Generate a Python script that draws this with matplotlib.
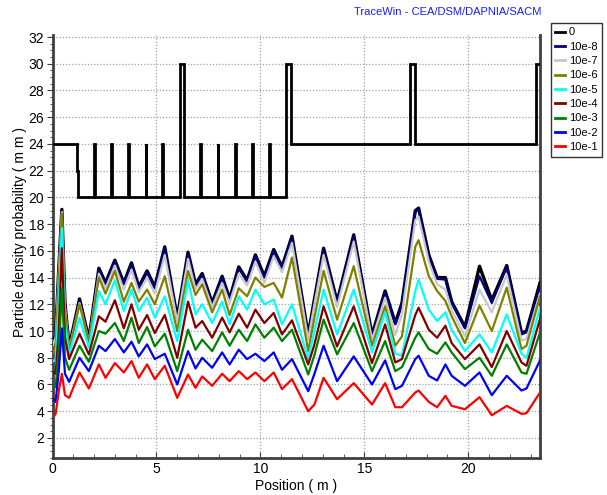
import matplotlib
matplotlib.use("Agg")
import matplotlib.pyplot as plt
from matplotlib.ticker import MultipleLocator

plt.rcParams['font.family'] = ['Liberation Sans', 'DejaVu Sans']

# ---------------- data ----------------
pos = [0.0, 0.15, 0.3, 0.45, 0.6, 0.8, 1.3, 1.75, 2.23, 2.55, 3.0, 3.43, 3.8, 4.15,
       4.55, 4.92, 5.4, 6.0, 6.52, 6.88, 7.2, 7.68, 8.16, 8.52, 8.96, 9.36, 9.76,
       10.19, 10.64, 11.04, 11.52, 12.3, 12.6, 13.04, 13.69, 14.49, 15.37, 16.0,
       16.49, 16.81, 17.45, 17.61, 18.1, 18.5, 18.9, 19.2, 19.84, 20.54, 21.13,
       21.85, 22.56, 22.8, 23.45]

p_0 = [9.1, 9.7, 14.6, 19.1, 12.1, 8.8, 12.4, 9.4, 14.7, 13.6, 15.3, 13.6, 15.1, 13.3,
       14.5, 13.3, 16.3, 11.0, 15.9, 13.5, 14.3, 12.1, 14.1, 12.4, 14.8, 13.8, 15.7,
       14.1, 16.1, 14.8, 17.1, 9.7, 12.4, 16.2, 12.2, 17.2, 9.7, 13.0, 10.6, 12.1,
       19.0, 19.2, 15.7, 14.0, 14.0, 12.2, 10.3, 14.85, 12.3, 14.9, 9.85, 10.0, 13.6]
p_8 = [9.0, 9.6, 14.5, 19.0, 12.0, 8.7, 12.3, 9.4, 14.6, 13.5, 15.2, 13.5, 15.0, 13.2,
       14.4, 13.2, 16.2, 10.9, 15.8, 13.4, 14.2, 12.0, 14.0, 12.3, 14.7, 13.7, 15.6,
       14.0, 16.0, 14.7, 17.0, 9.6, 12.3, 16.1, 12.1, 17.1, 9.6, 12.9, 10.5, 12.0,
       18.9, 19.1, 15.6, 13.9, 13.85, 12.1, 10.2, 14.1, 12.1, 14.8, 9.75, 9.9, 13.4]
p_7 = [8.9, 9.5, 14.3, 18.9, 11.8, 8.6, 12.1, 9.2, 14.3, 13.2, 14.9, 13.1, 14.6, 12.9,
       14.0, 12.8, 15.7, 10.7, 15.4, 13.1, 13.9, 11.8, 13.6, 12.1, 14.3, 13.4, 15.2,
       13.6, 15.6, 14.4, 16.6, 9.35, 12.0, 15.7, 11.8, 16.7, 9.35, 12.5, 9.7, 11.3,
       18.3, 18.55, 15.2, 13.5, 13.1, 11.6, 9.6, 13.1, 11.4, 14.2, 9.3, 9.4, 12.8]
p_6 = [8.3, 8.8, 13.8, 18.8, 11.5, 8.5, 12.0, 9.2, 14.0, 12.8, 14.5, 12.2, 13.6, 12.2,
       13.1, 12.0, 14.1, 10.0, 14.5, 12.7, 13.5, 11.4, 13.1, 11.2, 13.2, 12.6, 14.0,
       13.3, 13.6, 12.5, 15.5, 8.5, 11.0, 14.5, 10.85, 14.85, 8.9, 11.85, 8.9, 9.6,
       16.3, 16.8, 14.1, 13.0, 12.25, 11.1, 9.1, 11.9, 10.0, 13.25, 8.65, 8.9, 12.6]
p_5 = [7.7, 7.9, 12.0, 17.7, 10.5, 8.25, 11.0, 8.75, 13.0, 12.0, 13.8, 11.5, 13.1, 11.5,
       12.5, 11.0, 12.6, 9.25, 13.8, 11.25, 12.0, 10.6, 12.2, 10.5, 12.6, 11.6, 13.1,
       12.0, 12.35, 10.5, 12.0, 7.9, 10.0, 13.1, 9.75, 13.1, 8.4, 11.4, 8.3, 8.15,
       13.0, 13.85, 11.6, 10.75, 11.4, 10.1, 8.5, 9.75, 8.4, 11.25, 8.3, 8.0, 11.75]
p_4 = [7.0, 6.8, 10.0, 16.2, 9.5, 7.9, 9.8, 8.25, 11.1, 10.7, 12.3, 10.2, 12.0, 10.1,
       11.2, 9.85, 11.2, 8.0, 12.2, 10.25, 10.75, 9.5, 11.0, 9.9, 11.3, 10.25, 11.6,
       10.6, 11.35, 9.75, 10.8, 7.5, 9.0, 11.85, 8.85, 11.85, 7.6, 10.5, 7.65, 7.9,
       11.2, 11.75, 10.1, 9.5, 10.4, 9.1, 7.9, 9.0, 7.3, 10.0, 7.65, 7.4, 10.9]
p_3 = [6.2, 5.8, 8.5, 13.2, 8.0, 7.1, 8.9, 7.7, 10.0, 9.8, 10.6, 9.25, 11.0, 9.1,
       10.3, 8.85, 9.8, 7.0, 10.1, 8.6, 9.35, 8.5, 9.9, 8.9, 10.1, 9.25, 10.5,
       9.5, 10.25, 9.25, 10.1, 6.75, 8.2, 10.85, 8.25, 10.6, 7.0, 9.25, 7.0, 7.3,
       9.5, 9.9, 8.65, 8.3, 9.15, 8.4, 7.15, 8.0, 6.65, 9.0, 6.9, 6.8, 9.9]
p_2 = [5.0, 4.7, 7.0, 10.2, 6.8, 6.2, 8.0, 7.0, 8.9, 8.5, 9.4, 8.4, 9.2, 8.1,
       9.0, 7.9, 8.3, 6.0, 8.5, 7.2, 8.0, 7.25, 8.4, 7.5, 8.6, 7.9, 8.3,
       7.75, 8.4, 7.1, 7.9, 5.5, 6.8, 8.9, 6.25, 8.1, 6.0, 7.8, 5.65, 5.9,
       7.9, 8.15, 6.65, 6.3, 7.5, 6.65, 5.9, 6.9, 5.2, 6.65, 5.55, 5.7, 7.8]
p_1 = [3.5, 3.8, 5.5, 6.8, 5.2, 5.0, 6.9, 5.7, 7.5, 6.5, 7.6, 6.9, 7.75, 6.5,
       7.5, 6.4, 7.4, 5.0, 6.75, 5.75, 6.6, 5.9, 6.8, 6.25, 7.0, 6.4, 6.9,
       6.25, 6.9, 5.65, 6.4, 4.0, 4.5, 6.5, 4.9, 6.1, 4.5, 6.1, 4.3, 4.3,
       5.4, 5.55, 4.7, 4.3, 5.15, 4.4, 4.15, 5.05, 3.7, 4.4, 3.8, 3.85, 5.4]

series_labels = ['0', '10e-8', '10e-7', '10e-6', '10e-5', '10e-4', '10e-3', '10e-2', '10e-1']
series_colors = ['#000000', '#000080', '#c8c8c8', '#808000', '#00ffff', '#800000',
                 '#008000', '#0000ff', '#ff0000']

# lattice outline (top part): positions and levels
lat_x = [0.0, 1.19, 1.19, 1.22, 1.22,
         2.02, 2.02, 2.05, 2.05, 2.83, 2.83, 2.86, 2.86, 3.64, 3.64, 3.67, 3.67,
         4.48, 4.48, 4.51, 4.51, 5.28, 5.28, 5.31, 5.31,
         6.12, 6.12, 6.31, 6.31,
         7.11, 7.11, 7.14, 7.14, 7.95, 7.95, 7.98, 7.98, 8.79, 8.79, 8.82, 8.82,
         9.61, 9.61, 9.64, 9.64, 10.42, 10.42, 10.45, 10.45,
         11.25, 11.25, 11.49, 11.49, 17.21, 17.21, 17.44, 17.44, 23.27, 23.27, 23.45]
lat_y = [24, 24, 22, 22, 20,
         20, 24, 24, 20, 20, 24, 24, 20, 20, 24, 24, 20,
         20, 24, 24, 20, 20, 24, 24, 20,
         20, 30, 30, 20,
         20, 24, 24, 20, 20, 24, 24, 20, 20, 24, 24, 20,
         20, 24, 24, 20, 20, 24, 24, 20,
         20, 30, 30, 24, 24, 30, 30, 24, 24, 30, 30]

xticks = [0, 5, 10, 15, 20]
yticks = list(range(2, 33, 2))

# ---------------- plot ----------------
W, H = 607, 495
fig = plt.figure(figsize=(W / 100, H / 100), dpi=100)
L, R, B, T = 52.5, 540, 458, 35
ax = fig.add_axes([L / W, 1 - B / H, (R - L) / W, (B - T) / H])

ax.plot(lat_x, lat_y, color='#000000', lw=2.0, solid_joinstyle='miter', zorder=3)

all_series = [p_0, p_8, p_7, p_6, p_5, p_4, p_3, p_2, p_1]
handles = []
for vals, lab, col in zip(all_series, series_labels, series_colors):
    lw = 2.4 if lab == '0' else 1.6
    h, = ax.plot(pos, vals, color=col, lw=lw, label=lab, zorder=3,
                 solid_joinstyle='round')
    handles.append(h)

ax.set_xlim(0, 23.45)
ax.set_ylim(0.5, 32.15)
ax.set_xticks(xticks)
ax.set_yticks(yticks)
ax.xaxis.set_minor_locator(MultipleLocator(1))
ax.yaxis.set_minor_locator(MultipleLocator(0.5))
ax.tick_params(axis='x', which='both', direction='in', labelsize=10, pad=3,
               color='#404040')
ax.tick_params(axis='x', which='major', length=4)
ax.tick_params(axis='x', which='minor', length=3)
ax.tick_params(axis='y', which='both', direction='out', labelsize=10, pad=2,
               color='#404040')
ax.tick_params(axis='y', which='major', length=4)
ax.tick_params(axis='y', which='minor', length=2)

ax.grid(True, which='major', color='#a0a0a0', linestyle=(0, (1, 1.5)), lw=0.9)
ax.set_axisbelow(True)

ax.spines['top'].set_visible(False)
for s in ['left', 'bottom', 'right']:
    ax.spines[s].set_color('#404040')
    ax.spines[s].set_linewidth(2.0)

fig.text(296 / W, 1 - 486 / H, 'Position ( m )', ha='center', va='center', fontsize=10)
fig.text(20 / W, 1 - 232 / H, 'Particle density probability ( m m )', rotation=90,
         ha='center', va='center', fontsize=10)
fig.text(541 / W, 1 - 12 / H, 'TraceWin - CEA/DSM/DAPNIA/SACM', ha='right',
         va='center', fontsize=8, color='#1a1aff')

leg = fig.legend(handles=handles, loc='upper left',
                 bbox_to_anchor=(551 / W, 1 - 23 / H), bbox_transform=fig.transFigure,
                 fontsize=8, frameon=True, fancybox=False, borderaxespad=0,
                 handlelength=0.9, handletextpad=0.3, labelspacing=0.39,
                 borderpad=0.4)
leg.get_frame().set_edgecolor('#000000')
leg.get_frame().set_linewidth(1.0)
for ln in leg.get_lines():
    ln.set_linewidth(2.0)

fig.savefig('out.png', dpi=100)
